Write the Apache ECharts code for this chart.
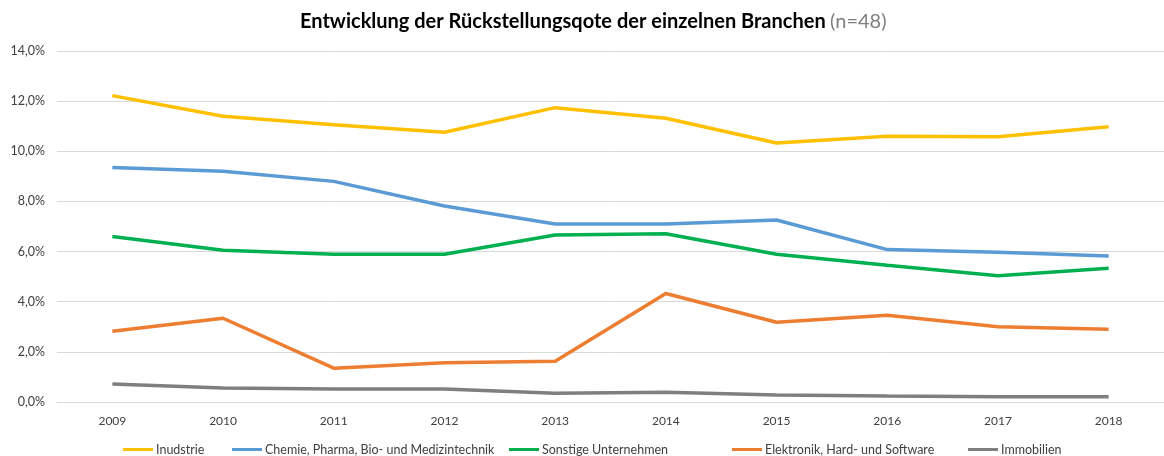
<!DOCTYPE html>
<html><head><meta charset="utf-8">
<script src="https://cdn.jsdelivr.net/npm/echarts@6/dist/echarts.min.js"></script>
<style>html,body{margin:0;padding:0;background:#fff}#c{width:1164px;height:456px}</style>
</head><body><div id="c"></div>
<script>
const years = ['2009','2010','2011','2012','2013','2014','2015','2016','2017','2018'];
const industrie = [12.22, 11.40, 11.06, 10.76, 11.74, 11.32, 10.33, 10.60, 10.58, 10.98];
const chemie = [9.35, 9.20, 8.80, 7.82, 7.10, 7.10, 7.26, 6.08, 5.97, 5.82];
const sonstige = [6.60, 6.05, 5.89, 5.89, 6.66, 6.71, 5.89, 5.45, 5.04, 5.33];
const elektronik = [2.82, 3.34, 1.35, 1.57, 1.63, 4.33, 3.18, 3.46, 3.00, 2.90];
const immobilien = [0.72, 0.56, 0.52, 0.52, 0.35, 0.39, 0.28, 0.24, 0.21, 0.21];
const names = ['Inudstrie','Chemie, Pharma, Bio- und Medizintechnik','Sonstige Unternehmen','Elektronik, Hard- und Software','Immobilien'];
const colors = ['#FFC000','#5B9BD5','#00B050','#ED7D31','#7F7F7F'];
const values = [industrie, chemie, sonstige, elektronik, immobilien];
const legendLeft = [123, 232, 509, 732, 968];
const font = 'Lato, "Open Sans", sans-serif';
const chart = echarts.init(document.getElementById('c'));
chart.setOption({
  animation:false,
  textStyle:{fontFamily:font},
  title:{
    text:'{b|Entwicklung der Rückstellungsqote der einzelnen Branchen} {g|(n=48)}',
    left:295, top:7,
    textStyle:{rich:{
      b:{fontFamily:font,fontWeight:'bold',fontSize:20,color:'#000'},
      g:{fontFamily:font,fontWeight:'normal',fontSize:20,color:'#7f7f7f'}
    }}
  },
  legend: names.map((n,i)=>({
    top:443, left:legendLeft[i], itemWidth:30, itemHeight:3, itemGap:0,
    icon:'rect', padding:0,
    textStyle:{fontFamily:font,fontSize:12.5,color:'#404040',padding:[0,0,0,-2]},
    data:[n]
  })),
  grid:{left:57,right:0,top:51,bottom:54},
  xAxis:{
    type:'category', data:years, boundaryGap:true,
    axisLine:{lineStyle:{color:'#d9d9d9',width:1}},
    axisTick:{show:false},
    axisLabel:{color:'#404040',fontSize:12,margin:13,fontFamily:font}
  },
  yAxis:{
    type:'value', min:0, max:14, interval:2,
    axisLine:{show:false}, axisTick:{show:false},
    splitLine:{lineStyle:{color:'#d9d9d9',width:1}},
    axisLabel:{color:'#404040',fontSize:12.5,margin:12,fontFamily:font,
      formatter:v=>v.toFixed(1).replace('.',',')+'%'}
  },
  series: names.map((n,i)=>({
    name:n, type:'line', data:values[i], symbol:'none',
    lineStyle:{color:colors[i],width:3.5}, itemStyle:{color:colors[i]}
  }))
});
</script></body></html>
